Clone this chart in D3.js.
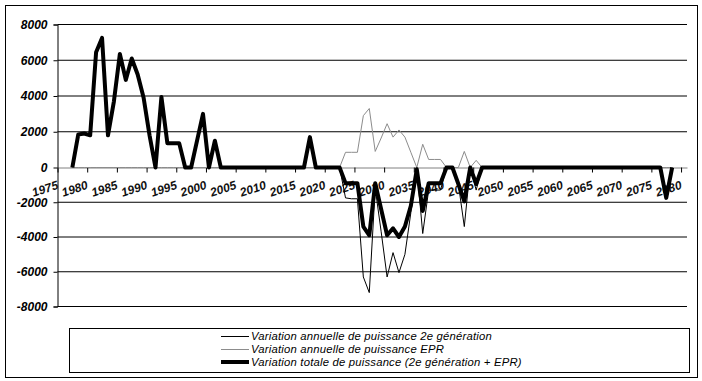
<!DOCTYPE html>
<html>
<head>
<meta charset="utf-8">
<script src="https://cdn.jsdelivr.net/npm/d3@7"></script>
<style>
  body { margin: 0; background: #fff; }
  svg { display: block; font-family: 'Liberation Sans', Arial, sans-serif; }
</style>
</head>
<body>
<svg id="chart" width="702" height="381"></svg>
<script>
// Categories: one value per year, first point 1977, last point 2078
const firstYear = 1977;
const lastYear = 2078;

// Axis tick labels
const tickYears = [1975, 1980, 1985, 1990, 1995, 2000, 2005, 2010, 2015, 2020, 2025,
  2030, 2035, 2040, 2045, 2050, 2055, 2060, 2065, 2070, 2075, 2080];
const yTicks = [8000, 6000, 4000, 2000, 0, -2000, -4000, -6000, -8000];

// Variation annuelle de puissance 2e génération (MW)
const gen2 = [
  0, 1850, 1900, 1800, 6450, 7250, 1800, 3700, 6350, 4900,          // 1977-1986
  6100, 5200, 3900, 1800, 0, 3950, 1350, 1350, 1350, 0,             // 1987-1996
  0, 1500, 3000, 0, 1500, 0, 0, 0, 0, 0,                            // 1997-2006
  0, 0, 0, 0, 0, 0, 0, 0, 0, 0,                                     // 2007-2016
  1700, 0, 0, 0, 0, 0, -1750, -1800, -1800, -6300,                  // 2017-2026
  -7200, -1200, -3700, -6300, -4900, -6050, -5000, -2600, 0, -3800, // 2027-2036
  -1300, -1300, -1300, 0, 0, -950, -3400, 0, -1300, 0,              // 2037-2046
  0, 0, 0, 0, 0, 0, 0, 0, 0, 0,                                     // 2047-2056
  0, 0, 0, 0, 0, 0, 0, 0, 0, 0,                                     // 2057-2066
  0, 0, 0, 0, 0, 0, 0, 0, 0, 0,                                     // 2067-2076
  -1750, 0                                                          // 2077-2078
];

// Variation annuelle de puissance EPR (MW)
const epr = [
  0, 0, 0, 0, 0, 0, 0, 0, 0, 0,
  0, 0, 0, 0, 0, 0, 0, 0, 0, 0,
  0, 0, 0, 0, 0, 0, 0, 0, 0, 0,
  0, 0, 0, 0, 0, 0, 0, 0, 0, 0,
  0, 0, 0, 0, 0, 0, 850, 850, 850, 2900,
  3300, 900, 1650, 2450, 1700, 2100, 1700, 850, 0, 1300,
  450, 450, 450, 0, 0, 0, 900, 0, 400, 0,
  0, 0, 0, 0, 0, 0, 0, 0, 0, 0,
  0, 0, 0, 0, 0, 0, 0, 0, 0, 0,
  0, 0, 0, 0, 0, 0, 0, 0, 0, 0,
  0, 0
];

// Variation totale de puissance (2e génération + EPR) (MW)
const total = [
  0, 1850, 1900, 1800, 6450, 7250, 1800, 3700, 6350, 4900,
  6100, 5200, 3900, 1800, 0, 3950, 1350, 1350, 1350, 0,
  0, 1500, 3000, 0, 1500, 0, 0, 0, 0, 0,
  0, 0, 0, 0, 0, 0, 0, 0, 0, 0,
  1700, 0, 0, 0, 0, 0, -900, -900, -900, -3400,
  -3900, -900, -2400, -3900, -3500, -4000, -3400, -2200, -100, -2500,
  -900, -900, -900, 0, 0, -950, -1950, 0, -950, 0,
  0, 0, 0, 0, 0, 0, 0, 0, 0, 0,
  0, 0, 0, 0, 0, 0, 0, 0, 0, 0,
  0, 0, 0, 0, 0, 0, 0, 0, 0, 0,
  -1750, 0
];

const legendLabels = [
  'Variation annuelle de puissance 2e génération',
  'Variation annuelle de puissance EPR',
  'Variation totale de puissance (2e génération + EPR)'
];

const svg = d3.select('#chart');

// Plot area
const left = 57.5, right = 687;

// Year edges: category Y spans x(Y) .. x(Y + 1)
const x = d3.scaleLinear().domain([1975, 2081]).range([left, right]);
const y = d3.scaleLinear().domain([-8000, 0, 8000]).range([306.5, 167.5, 24.5]);

// Outer frame
svg.append('rect')
  .attr('x', 5.5).attr('y', 5.5)
  .attr('width', 692).attr('height', 372)
  .attr('fill', '#fff').attr('stroke', '#000');

// Horizontal gridlines (zero line is drawn by the category axis)
svg.append('g')
  .selectAll('line')
  .data(yTicks.filter(d => d !== 0))
  .enter()
  .append('line')
  .attr('x1', left).attr('x2', right)
  .attr('y1', d => y(d)).attr('y2', d => y(d))
  .attr('stroke', '#000');

// Value axis
const yAxis = svg.append('g')
  .attr('transform', `translate(${left},0)`)
  .call(d3.axisLeft(y).tickValues(yTicks).tickSize(4).tickPadding(6).tickFormat(d => String(d)));
yAxis.select('.domain').attr('stroke', '#000');
yAxis.selectAll('text')
  .attr('font-size', '12px')
  .attr('font-weight', 'bold')
  .attr('font-style', 'italic')
  .attr('fill', '#000');

// Category axis on the zero line
const xAxis = svg.append('g')
  .attr('transform', `translate(0,${y(0)})`)
  .call(d3.axisBottom(x).tickValues(tickYears).tickSize(5).tickSizeOuter(0).tickFormat(d => String(d)));
xAxis.select('.domain').attr('stroke', '#808080');
xAxis.selectAll('.tick line').attr('stroke', '#000');
xAxis.selectAll('text')
  .attr('x', null).attr('y', null).attr('dy', null)
  .attr('text-anchor', 'end')
  .attr('transform', 'translate(1,21) rotate(-18)')
  .attr('font-size', '12px')
  .attr('font-weight', 'bold')
  .attr('font-style', 'italic')
  .attr('fill', '#111');

// Series
const years = d3.range(firstYear, lastYear + 1);
const toPoints = (values) => values.map((v, i) => ({ year: years[i], value: v }));

const line = d3.line()
  .x(d => x(d.year + 0.5))
  .y(d => y(d.value));

const series = [
  { name: legendLabels[0], values: gen2, color: '#000', width: 1 },
  { name: legendLabels[1], values: epr, color: '#8c8c8c', width: 1 },
  { name: legendLabels[2], values: total, color: '#000', width: 4 }
];

svg.append('g')
  .selectAll('path')
  .data(series)
  .enter()
  .append('path')
  .attr('d', d => line(toPoints(d.values)))
  .attr('fill', 'none')
  .attr('stroke', d => d.color)
  .attr('stroke-width', d => d.width)
  .attr('stroke-linejoin', 'round');

// Legend
const legend = svg.append('g');
legend.append('rect')
  .attr('x', 69.5).attr('y', 328.5)
  .attr('width', 620).attr('height', 44)
  .attr('fill', '#fff').attr('stroke', '#000');

const rows = [336.5, 349.5, 362];
const item = legend.selectAll('g.item')
  .data(series)
  .enter()
  .append('g')
  .attr('class', 'item')
  .attr('transform', (d, i) => `translate(0,${rows[i]})`);

item.append('line')
  .attr('x1', 221).attr('x2', 249)
  .attr('stroke', d => d.color)
  .attr('stroke-width', d => d.width);

item.append('text')
  .attr('x', 251)
  .attr('dy', '0.35em')
  .attr('font-size', '11.3px')
  .attr('letter-spacing', '0.2px')
  .attr('font-style', 'italic')
  .attr('fill', '#000')
  .text(d => d.name);
</script>
</body>
</html>
